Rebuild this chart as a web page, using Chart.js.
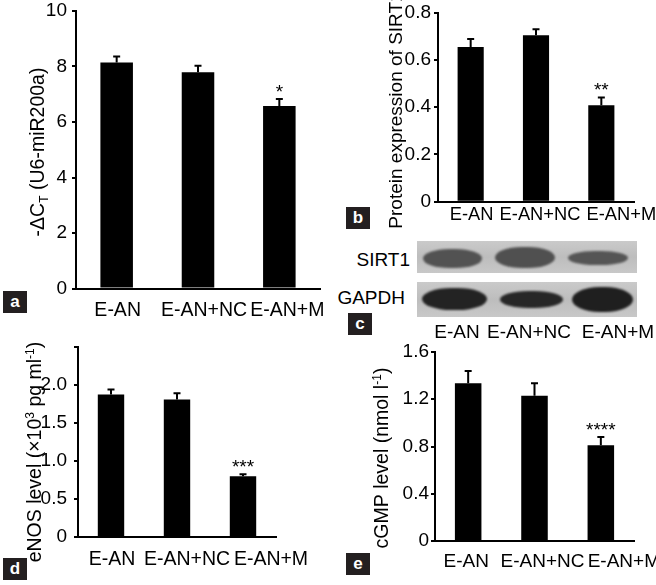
<!DOCTYPE html>
<html>
<head>
<meta charset="utf-8">
<script src="https://cdn.jsdelivr.net/npm/chart.js@4.4.1/dist/chart.umd.min.js"></script>
<style>
  html, body { margin:0; padding:0; background:#fff; }
  #fig { position:relative; width:656px; height:585px; overflow:hidden; font-family:'Liberation Sans', Arial, sans-serif; color:#000; }
  .pane { position:absolute; }
  .tag { position:absolute; width:24px; height:22px; background:#231f20; color:#fff; font:bold 17px 'Liberation Sans', Arial, sans-serif; text-align:center; line-height:22px; }
  .strip { position:absolute; left:417px; width:220px; background:linear-gradient(180deg,#cacaca,#bdbdbd 50%,#c8c8c8); }
  .band { position:absolute; border-radius:45% / 50%; filter:blur(1.2px); }
  .txt { position:absolute; font-size:19px; white-space:nowrap; line-height:22px; }
</style>
</head>
<body>
<div id="fig">
  <canvas id="chartA" class="pane" width="330" height="330" style="left:0;top:0"></canvas>
  <canvas id="chartB" class="pane" width="326" height="235" style="left:330px;top:0"></canvas>
  <canvas id="chartD" class="pane" width="330" height="255" style="left:0;top:330px"></canvas>
  <canvas id="chartE" class="pane" width="326" height="255" style="left:330px;top:330px"></canvas>

  <!-- c: western blot -->
  <div class="strip" style="top:241px;height:32px">
    <div class="band" style="left:6px;top:8px;width:59px;height:19px;background:#525252"></div>
    <div class="band" style="left:78px;top:6px;width:60px;height:21px;background:#505050"></div>
    <div class="band" style="left:151px;top:10px;width:60px;height:14px;background:#555"></div>
  </div>
  <div class="strip" style="top:282px;height:35px">
    <div class="band" style="left:5px;top:6px;width:65px;height:22px;background:#232323"></div>
    <div class="band" style="left:83px;top:9px;width:63px;height:17px;background:#272727"></div>
    <div class="band" style="left:155px;top:5px;width:61px;height:25px;background:#1f1f1f"></div>
  </div>
  <div class="txt" style="right:246px;top:249px">SIRT1</div>
  <div class="txt" style="right:251px;top:287px">GAPDH</div>
  <div class="txt" style="left:457px;top:321px;transform:translateX(-50%)">E-AN</div>
  <div class="txt" style="left:529px;top:321px;transform:translateX(-50%)">E-AN+NC</div>
  <div class="txt" style="left:618px;top:321px;transform:translateX(-50%)">E-AN+M</div>

  <div class="tag" style="left:3px;top:291px">a</div>
  <div class="tag" style="left:346px;top:207px">b</div>
  <div class="tag" style="left:348px;top:313px">c</div>
  <div class="tag" style="left:3px;top:558px">d</div>
  <div class="tag" style="left:346px;top:553px">e</div>
</div>
<script>
// painel de 5 figuras: a, b, d, e em Chart.js; c (blot) em HTML
const CATEGORIAS = ['E-AN', 'E-AN+NC', 'E-AN+M'];

const MIR_MEDIA = [8.14, 7.79, 6.58];
const MIR_ERRO = [0.22, 0.24, 0.25];
const MIR_SIG = ['', '', '*'];
const MIR_TICKS = [0, 2, 4, 6, 8, 10];
const MIR_TICK_LABELS = ['0', '2', '4', '6', '8', '10'];

const SIRT1_MEDIA = [0.654, 0.704, 0.408];
const SIRT1_ERRO = [0.034, 0.025, 0.033];
const SIRT1_SIG = ['', '', '**'];
const SIRT1_TICKS = [0, 0.2, 0.4, 0.6, 0.8];
const SIRT1_TICK_LABELS = ['0', '0.2', '0.4', '0.6', '0.8'];

const ENOS_MEDIA = [1.875, 1.81, 0.80];
const ENOS_ERRO = [0.065, 0.08, 0.025];
const ENOS_SIG = ['', '', '***'];
const ENOS_TICKS = [0, 0.5, 1, 1.5, 2, 2.5];
const ENOS_TICK_LABELS = ['0', '0.5', '1.0', '1.5', '2.0', ''];

const CGMP_MEDIA = [1.336, 1.23, 0.81];
const CGMP_ERRO = [0.104, 0.106, 0.07];
const CGMP_SIG = ['', '', '****'];
const CGMP_TICKS = [0, 0.4, 0.8, 1.2, 1.6];
const CGMP_TICK_LABELS = ['0', '0.4', '0.8', '1.2', '1.6'];

const FAM = '"Liberation Sans", Arial, sans-serif';
const FS = 19.5;

Chart.defaults.font.family = FAM;
Chart.defaults.font.size = 19;
Chart.defaults.color = '#000';

const errorBars = {
  id: 'errorBars',
  afterDatasetsDraw(chart, args, opts) {
    const { ctx, scales: { y } } = chart;
    const values = chart.data.datasets[0].data;
    ctx.save();
    ctx.strokeStyle = '#000'; ctx.fillStyle = '#000'; ctx.lineWidth = 2;
    ctx.font = `19px ${FAM}`;
    ctx.textAlign = 'center'; ctx.textBaseline = 'alphabetic';
    chart.getDatasetMeta(0).data.forEach((bar, i) => {
      const top = y.getPixelForValue(values[i] + opts.err[i]);
      ctx.beginPath();
      ctx.moveTo(bar.x, bar.y); ctx.lineTo(bar.x, top);
      ctx.moveTo(bar.x - 3.5, top); ctx.lineTo(bar.x + 3.5, top);
      ctx.stroke();
      if (opts.sig[i]) ctx.fillText(opts.sig[i], bar.x, top - 1);
    });
    ctx.restore();
  }
};

// titulo do eixo y com sub/sobrescrito
const yTitle = {
  id: 'yTitle',
  afterDraw(chart, args, opts) {
    const ctx = chart.ctx, size = opts.size || FS, small = size * 0.62;
    const fontOf = p => `${p.sub || p.sup ? small : size}px ${FAM}`;
    ctx.save();
    let total = 0;
    opts.parts.forEach(p => { ctx.font = fontOf(p); total += ctx.measureText(p.t).width; });
    ctx.translate(opts.x, opts.y);
    ctx.rotate(-Math.PI / 2);
    ctx.fillStyle = '#000'; ctx.textAlign = 'left'; ctx.textBaseline = 'alphabetic';
    let x = -total / 2;
    const base = size * 0.36;
    opts.parts.forEach(p => {
      ctx.font = fontOf(p);
      const dy = p.sub ? size * 0.22 : p.sup ? -size * 0.38 : 0;
      ctx.fillText(p.t, x, base + dy);
      x += ctx.measureText(p.t).width;
    });
    ctx.restore();
  }
};

const catLabels = {
  id: 'catLabels',
  afterDraw(chart, args, opts) {
    const { ctx, scales: { x } } = chart;
    const size = opts.size || FS;
    ctx.save();
    ctx.font = `${size}px ${FAM}`; ctx.fillStyle = '#000';
    ctx.textAlign = 'center'; ctx.textBaseline = 'alphabetic';
    chart.data.labels.forEach((lab, i) => {
      ctx.fillText(lab, x.getPixelForTick(i) + (opts.shift[i] || 0), x.top + opts.dy + size * 0.36);
    });
    ctx.restore();
  }
};

function barChart(id, p) {
  const cv = document.getElementById(id);
  const W = cv.width, H = cv.height, xH = 30;
  return new Chart(cv, {
    type: 'bar',
    data: {
      labels: CATEGORIAS,
      datasets: [{ data: p.media, backgroundColor: '#000', borderWidth: 0, barPercentage: 0.4, categoryPercentage: 1 }]
    },
    options: {
      responsive: false, animation: false, devicePixelRatio: 1,
      layout: { padding: { left: 0, top: p.area.top, right: W - p.area.right, bottom: H - p.area.bottom - xH } },
      plugins: {
        legend: { display: false }, tooltip: { enabled: false },
        errorBars: { err: p.erro, sig: p.sig },
        yTitle: p.title,
        catLabels: p.cat
      },
      scales: {
        x: {
          grid: { display: false, drawTicks: false },
          border: { color: '#000', width: 2 },
          ticks: { display: false },
          afterFit: s => { s.height = xH; s.paddingLeft = 0; s.paddingRight = 0; }
        },
        y: {
          min: 0, max: p.ticks[p.ticks.length - 1],
          afterBuildTicks: s => { s.ticks = p.ticks.map(v => ({ value: v })); },
          ticks: { padding: p.tickPad, color: '#000', font: { size: 19 }, callback: (v, i) => p.tickLabels[i] },
          grid: { drawOnChartArea: false, drawTicks: true, tickLength: 4, color: '#000', lineWidth: 2 },
          border: { color: '#000', width: 2 },
          afterFit: s => { s.width = p.area.left; s.paddingTop = 0; s.paddingBottom = 0; }
        }
      }
    },
    plugins: [errorBars, yTitle, catLabels]
  });
}

barChart('chartA', {
  media: MIR_MEDIA, erro: MIR_ERRO, sig: MIR_SIG, ticks: MIR_TICKS, tickLabels: MIR_TICK_LABELS,
  area: { left: 76, top: 11, right: 320, bottom: 288.5 }, tickPad: 5,
  title: { x: 37, y: 152, parts: [{ t: '-ΔC' }, { t: 'T', sub: true }, { t: ' (U6-miR200a)' }] },
  cat: { dy: 20.5, shift: [1, 6, 8] }
});

barChart('chartB', {
  media: SIRT1_MEDIA, erro: SIRT1_ERRO, sig: SIRT1_SIG, ticks: SIRT1_TICKS, tickLabels: SIRT1_TICK_LABELS,
  area: { left: 108, top: 12.5, right: 304, bottom: 201.7 }, tickPad: 3,
  title: { x: 65, y: 110, size: 19, parts: [{ t: 'Protein expression of SIRT1' }] },
  cat: { dy: 11.5, size: 18.3, shift: [1, 4, 20] }
});

barChart('chartD', {
  media: ENOS_MEDIA, erro: ENOS_ERRO, sig: ENOS_SIG, ticks: ENOS_TICKS, tickLabels: ENOS_TICK_LABELS,
  area: { left: 78, top: 17, right: 276, bottom: 207 }, tickPad: 7,
  title: { x: 34, y: 122, size: 19.5, parts: [{ t: 'eNOS level (×10' }, { t: '3', sup: true }, { t: ' pg ml' }, { t: '-1', sup: true }, { t: ')' }] },
  cat: { dy: 21, shift: [1, 10, 28] }
});

barChart('chartE', {
  media: CGMP_MEDIA, erro: CGMP_ERRO, sig: CGMP_SIG, ticks: CGMP_TICKS, tickLabels: CGMP_TICK_LABELS,
  area: { left: 105, top: 22, right: 304, bottom: 211 }, tickPad: 2,
  title: { x: 51, y: 128, parts: [{ t: 'cGMP level (nmol l' }, { t: '-1', sup: true }, { t: ')' }] },
  cat: { dy: 19, size: 19, shift: [-2, 8, 23] }
});
</script>
</body>
</html>
